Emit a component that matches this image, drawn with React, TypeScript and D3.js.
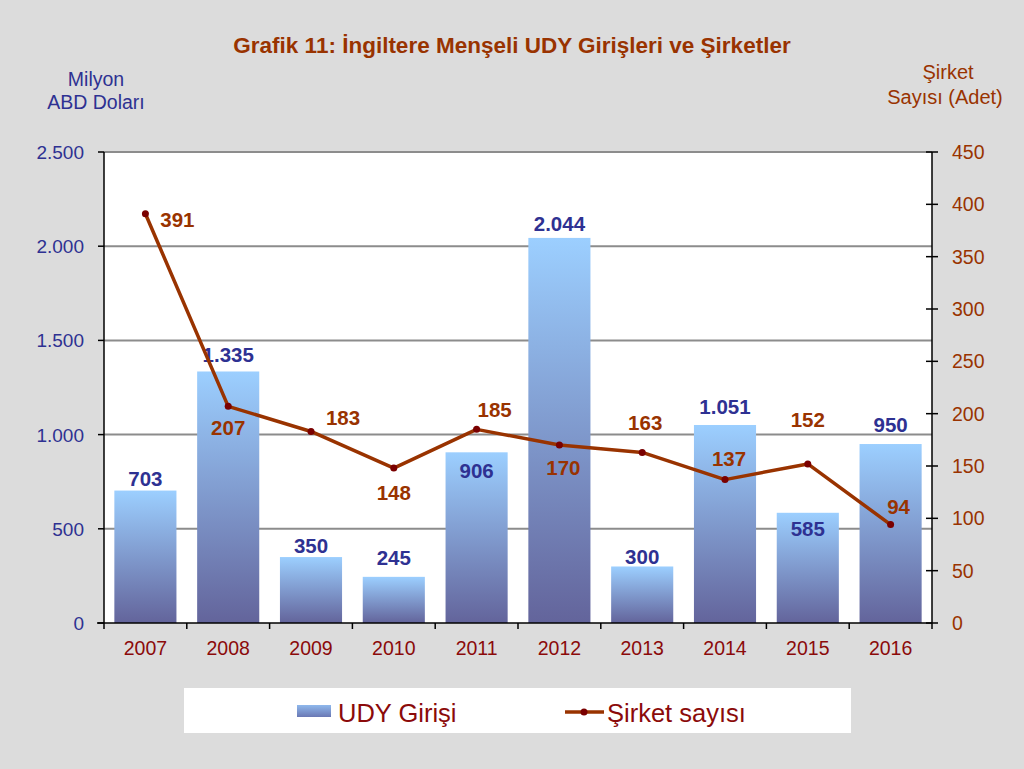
import React from "react";
import * as d3 from "d3";

const years = ["2007", "2008", "2009", "2010", "2011", "2012", "2013", "2014", "2015", "2016"];
const udyValues = [703, 1335, 350, 245, 906, 2044, 300, 1051, 585, 950];
const companyCounts = [391, 207, 183, 148, 185, 170, 163, 137, 152, 94];
const leftTicks = [0, 500, 1000, 1500, 2000, 2500];
const rightTicks = [0, 50, 100, 150, 200, 250, 300, 350, 400, 450];
// label offsets relative to the bar tops / line points
const barLabelDy = [-5, -9, -4, -12, 26, -7, -2, -11, 23, -12];
const lineLabelOffsets: [number, number][] = [
  [32, 13], [0, 29], [32, -6], [0, 32], [18, -12], [4, 30], [3, -22], [4, -14], [0, -37], [8, -11],
];

const W = 1024;
const H = 769;
const M = { left: 104, right: 932, top: 152, bottom: 623 };
const FONT = "'Liberation Sans', Arial, sans-serif";
const NAVY = "#2e3192";
const BROWN = "#993300";
const XRED = "#8b0a0a";

const fmt = (v: number) => d3.format(",")(v).replace(/,/g, ".");

export default function App() {
  const x = d3.scaleBand<string>().domain(years).range([M.left, M.right]).paddingInner(0.25).paddingOuter(0.125);
  const xb = d3.scaleBand<string>().domain(years).range([M.left, M.right]);
  const yL = d3.scaleLinear().domain([0, 2500]).range([M.bottom, M.top]);
  const yR = d3.scaleLinear().domain([0, 450]).range([M.bottom, M.top]);
  const cx = (i: number) => (xb(years[i]) as number) + xb.bandwidth() / 2;
  const line = d3
    .line<number>()
    .x((_, i) => cx(i))
    .y((d) => yR(d));

  return (
    <svg width={W} height={H} style={{ display: "block", position: "absolute", left: 0, top: 0 }} fontFamily={FONT}>
      <defs>
        <linearGradient id="barGrad" x1="0" y1="0" x2="0" y2="1">
          <stop offset="0%" stopColor="#9ccfff" />
          <stop offset="100%" stopColor="#63649b" />
        </linearGradient>
        <linearGradient id="legGrad" x1="0" y1="0" x2="0" y2="1">
          <stop offset="0%" stopColor="#8fb8ec" />
          <stop offset="100%" stopColor="#6a78b4" />
        </linearGradient>
      </defs>
      <rect x={0} y={0} width={W} height={H} fill="#dcdcdc" />
      <text x={512} y={53} textAnchor="middle" fontSize={22.5} fontWeight="bold" fill={BROWN}>
        Grafik 11: İngiltere Menşeli UDY Girişleri ve Şirketler
      </text>
      <text x={96} y={86} textAnchor="middle" fontSize={19.5} fill={NAVY}>Milyon</text>
      <text x={96} y={109} textAnchor="middle" fontSize={19.5} fill={NAVY}>ABD Doları</text>
      <text x={948} y={79} textAnchor="middle" fontSize={20} fill={BROWN}>Şirket</text>
      <text x={945} y={104} textAnchor="middle" fontSize={20} fill={BROWN}>Sayısı (Adet)</text>

      <rect x={M.left} y={M.top} width={M.right - M.left} height={M.bottom - M.top} fill="#ffffff" />
      {leftTicks.filter((t) => t > 0).map((t) => (
        <line key={"g" + t} x1={M.left} x2={M.right} y1={yL(t)} y2={yL(t)} stroke="#8c8c8c" strokeWidth={2} />
      ))}

      {years.map((yr, i) => (
        <rect key={"b" + yr} x={x(yr)} y={yL(udyValues[i])} width={x.bandwidth()} height={M.bottom - yL(udyValues[i])} fill="url(#barGrad)" />
      ))}

      <line x1={M.left} x2={M.left} y1={M.top} y2={M.bottom} stroke="#000" strokeWidth={1.5} />
      <line x1={M.right} x2={M.right} y1={M.top} y2={M.bottom} stroke="#000" strokeWidth={1.5} />
      <line x1={M.left - 7} x2={M.right} y1={M.bottom} y2={M.bottom} stroke="#000" strokeWidth={1.5} />
      {leftTicks.map((t) => (
        <g key={"lt" + t}>
          <line x1={M.left - 6} x2={M.left} y1={yL(t)} y2={yL(t)} stroke="#000" strokeWidth={1.5} />
          <text x={84} y={yL(t) + 7} textAnchor="end" fontSize={19} fill={NAVY}>{fmt(t)}</text>
        </g>
      ))}
      {rightTicks.map((t) => (
        <g key={"rt" + t}>
          <line x1={M.right - 6} x2={M.right + 6} y1={yR(t)} y2={yR(t)} stroke="#000" strokeWidth={1.5} />
          <text x={952} y={yR(t) + 7} textAnchor="start" fontSize={19.5} fill={BROWN}>{t}</text>
        </g>
      ))}
      {years.map((yr) => (
        <line key={"xt" + yr} x1={xb(yr) as number} x2={xb(yr) as number} y1={M.bottom} y2={M.bottom + 6} stroke="#000" strokeWidth={1.5} />
      ))}
      <line x1={M.right} x2={M.right} y1={M.bottom} y2={M.bottom + 6} stroke="#000" strokeWidth={1.5} />
      {years.map((yr, i) => (
        <text key={"xl" + yr} x={cx(i)} y={655} textAnchor="middle" fontSize={19.5} fill={XRED}>{yr}</text>
      ))}

      {years.map((yr, i) => (
        <text key={"bl" + yr} x={(x(yr) as number) + x.bandwidth() / 2} y={yL(udyValues[i]) + barLabelDy[i]} textAnchor="middle" fontSize={20.5} fontWeight="bold" fill={NAVY}>
          {fmt(udyValues[i])}
        </text>
      ))}

      <path d={line(companyCounts) || ""} fill="none" stroke={BROWN} strokeWidth={3.5} strokeLinejoin="round" />
      {companyCounts.map((c, i) => (
        <circle key={"m" + i} cx={cx(i)} cy={yR(c)} r={3.5} fill="#7a0000" />
      ))}
      {companyCounts.map((c, i) => (
        <text key={"ll" + i} x={cx(i) + lineLabelOffsets[i][0]} y={yR(c) + lineLabelOffsets[i][1]} textAnchor="middle" fontSize={20.5} fontWeight="bold" fill={BROWN}>
          {c}
        </text>
      ))}

      <rect x={184} y={688} width={667} height={45} fill="#ffffff" />
      <rect x={297} y={705} width={34} height={12} fill="url(#legGrad)" />
      <text x={338} y={722} fontSize={25.5} fill={XRED}>UDY Girişi</text>
      <line x1={565} x2={604} y1={712} y2={712} stroke={BROWN} strokeWidth={3.5} />
      <circle cx={584} cy={712} r={3.5} fill="#7a0000" />
      <text x={607} y={722} fontSize={25.5} fill={XRED}>Şirket sayısı</text>
    </svg>
  );
}
